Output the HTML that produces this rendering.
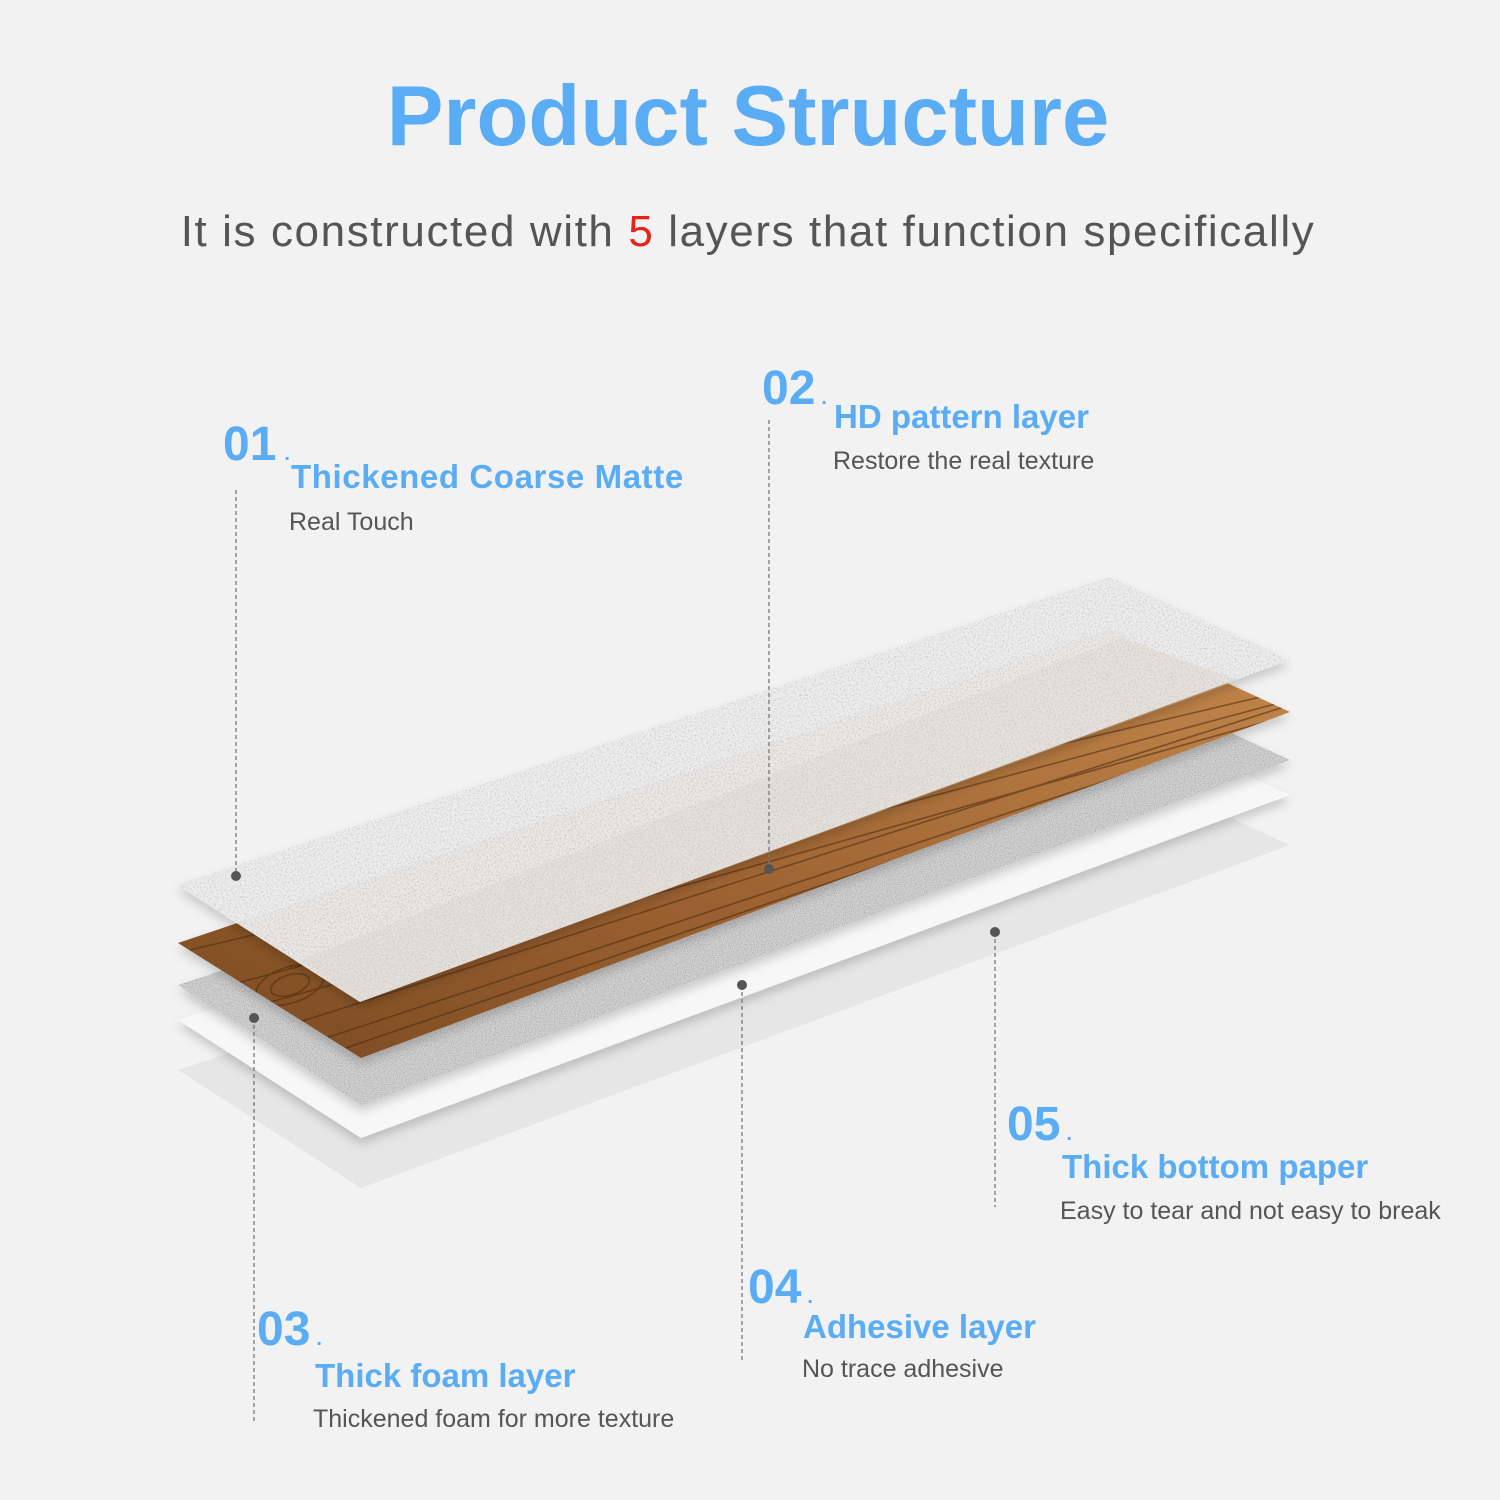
<!DOCTYPE html>
<html><head><meta charset="utf-8"><style>
html,body{margin:0;padding:0;background:#f2f2f2;}
body{width:1500px;height:1500px;position:relative;overflow:hidden;font-family:"Liberation Sans",sans-serif;}
svg{position:absolute;left:0;top:0;}
</style></head><body>
<svg width="1500" height="1500" viewBox="0 0 1500 1500">
<defs>
<filter id="speck" x="0" y="0" width="100%" height="100%">
<feTurbulence type="fractalNoise" baseFrequency="0.6" numOctaves="2" seed="3" result="n"/>
<feColorMatrix in="n" type="matrix" values="0 0 0 0 0.55  0 0 0 0 0.55  0 0 0 0 0.55  0 0 0 -2.2 1.25" result="s"/>
<feComposite in="s" in2="SourceGraphic" operator="in" result="c"/>
<feMerge><feMergeNode in="SourceGraphic"/><feMergeNode in="c"/></feMerge>
</filter>
<filter id="foam" x="0" y="0" width="100%" height="100%">
<feTurbulence type="fractalNoise" baseFrequency="0.9" numOctaves="2" seed="7" result="n"/>
<feColorMatrix in="n" type="matrix" values="0 0 0 0 0.4  0 0 0 0 0.4  0 0 0 0 0.4  0 0 0 -3 1.7" result="s"/>
<feComposite in="s" in2="SourceGraphic" operator="in" result="c"/>
<feMerge><feMergeNode in="SourceGraphic"/><feMergeNode in="c"/></feMerge>
</filter>
<filter id="sh" x="-10%" y="-10%" width="120%" height="130%">
<feDropShadow dx="0" dy="6" stdDeviation="5" flood-color="#000" flood-opacity="0.18"/>
</filter>
<linearGradient id="wood" x1="0" y1="1" x2="1" y2="0">
<stop offset="0" stop-color="#7a4a22"/><stop offset="0.4" stop-color="#9a6030"/><stop offset="1" stop-color="#c4884c"/>
</linearGradient>
<clipPath id="wclip"><polygon points="178,943 361,1058 1290,712 1110,629"/></clipPath>
</defs>
<polygon points="178,1070 361,1188 1290,845 1110,762" fill="#e6e6e6"/>
<polygon points="178,1020 361,1138 1290,795 1110,712" fill="#f7f7f7" filter="url(#sh)"/>
<g filter="url(#sh)"><polygon points="178,985 361,1105 1290,760 1110,677" fill="#d2d2d2" filter="url(#foam)"/></g>
<g filter="url(#sh)">
<polygon points="178,943 361,1058 1290,712 1110,629" fill="url(#wood)"/>
<g clip-path="url(#wclip)" stroke="#4a2a10" stroke-width="1.6" fill="none" opacity="0.55">
<line x1="190" y1="950" x2="1290" y2="690"/><line x1="230" y1="985" x2="1290" y2="700"/>
<line x1="260" y1="1005" x2="1290" y2="715"/><line x1="290" y1="1025" x2="1290" y2="705"/>
<line x1="320" y1="1040" x2="1290" y2="720"/><line x1="340" y1="1050" x2="1290" y2="725"/>
<ellipse cx="290" cy="985" rx="35" ry="18" transform="rotate(-18 290 985)"/>
<ellipse cx="290" cy="985" rx="20" ry="10" transform="rotate(-18 290 985)"/>
</g>
</g>
<g filter="url(#sh)"><polygon points="177,885 360,1002 1290,660 1110,577" fill="#efefef" opacity="0.96" filter="url(#speck)"/></g>
<polygon points="300,960 360,1002 1240,680 1120,638" fill="#d8ccbf" opacity="0.3"/>
<g stroke="#777" stroke-width="1.3" stroke-dasharray="4,3" fill="none">
<line x1="236" y1="490" x2="236" y2="876"/>
<line x1="769" y1="420" x2="769" y2="869"/>
<line x1="254" y1="1018" x2="254" y2="1422"/>
<line x1="742" y1="985" x2="742" y2="1360"/>
<line x1="995" y1="932" x2="995" y2="1207"/>
</g>
<g fill="#555"><circle cx="236" cy="876" r="5"/><circle cx="769" cy="869" r="5"/><circle cx="254" cy="1018" r="5"/><circle cx="742" cy="985" r="5"/><circle cx="995" cy="932" r="5"/></g>
<text x="748" y="145" text-anchor="middle" font-size="85" font-weight="bold" fill="#5aacf5" font-family="Liberation Sans, sans-serif">Product Structure</text>
<text x="748" y="246" text-anchor="middle" font-size="44" fill="#555" letter-spacing="1.6" font-family="Liberation Sans, sans-serif">It is constructed with <tspan fill="#e8231a">5</tspan> layers that function specifically</text>
<g font-family="Liberation Sans, sans-serif">
<text x="223" y="460" font-size="48" font-weight="bold" fill="#5aacf5">01<tspan font-size="20" dx="8">.</tspan></text>
<text x="291" y="488" font-size="33" font-weight="bold" fill="#5aacf5" letter-spacing="0.6">Thickened Coarse Matte</text>
<text x="289" y="530" font-size="25" fill="#555">Real Touch</text>
<text x="762" y="404" font-size="48" font-weight="bold" fill="#5aacf5">02<tspan font-size="20" dx="6">.</tspan></text>
<text x="834" y="428" font-size="33" font-weight="bold" fill="#5aacf5">HD pattern layer</text>
<text x="833" y="469" font-size="25" fill="#555">Restore the real texture</text>
<text x="1007" y="1140" font-size="48" font-weight="bold" fill="#5aacf5">05<tspan font-size="20" dx="6">.</tspan></text>
<text x="1062" y="1178" font-size="33" font-weight="bold" fill="#5aacf5">Thick bottom paper</text>
<text x="1060" y="1219" font-size="25" fill="#555">Easy to tear and not easy to break</text>
<text x="748" y="1303" font-size="48" font-weight="bold" fill="#5aacf5">04<tspan font-size="20" dx="6">.</tspan></text>
<text x="803" y="1338" font-size="33" font-weight="bold" fill="#5aacf5">Adhesive layer</text>
<text x="802" y="1377" font-size="25" fill="#555">No trace adhesive</text>
<text x="257" y="1345" font-size="48" font-weight="bold" fill="#5aacf5">03<tspan font-size="20" dx="6">.</tspan></text>
<text x="315" y="1387" font-size="33" font-weight="bold" fill="#5aacf5">Thick foam layer</text>
<text x="313" y="1427" font-size="25" fill="#555">Thickened foam for more texture</text>
</g>
</svg>
</body></html>
